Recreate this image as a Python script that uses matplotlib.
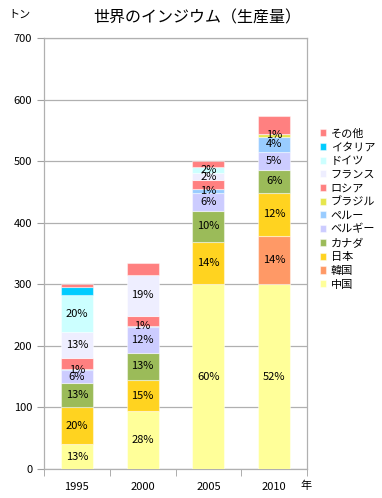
import matplotlib
matplotlib.use("Agg")
import matplotlib.pyplot as plt
import numpy as np

plt.rcParams["font.family"] = ["Noto Sans CJK JP", "DejaVu Sans"]

# ── data ─────────────────────────────────────────────────────────────────────
years = ["1995", "2000", "2005", "2010"]

# bottom → top stacking order
series = ["中国", "韓国", "日本", "カナダ", "ベルギー", "ペルー",
          "ブラジル", "ロシア", "フランス", "ドイツ", "イタリア", "その他"]

china   = [40, 94, 300, 300]
korea   = [0, 0, 0, 79]
japan   = [61, 50, 69, 70]
canada  = [39, 45, 50, 36]
belgium = [20, 42, 30, 30]
peru    = [2, 2, 6, 25]
brazil  = [0, 0, 0, 4]
russia  = [19, 16, 14, 0]
france  = [41, 66, 12, 0]
germany = [61, 0, 10, 0]
italy   = [12, 0, 0, 0]
other   = [5, 19, 9, 29]

labels_china   = ["13%", "28%", "60%", "52%"]
labels_korea   = [None, None, None, "14%"]
labels_japan   = ["20%", "15%", "14%", "12%"]
labels_canada  = ["13%", "13%", "10%", "6%"]
labels_belgium = ["6%", "12%", "6%", "5%"]
labels_peru    = ["1%", "1%", "1%", "4%"]
labels_brazil  = [None, None, None, "1%"]
labels_russia  = [None, None, None, None]
labels_france  = ["13%", "19%", "2%", None]
labels_germany = ["20%", None, "2%", None]
labels_italy   = [None, None, None, None]
labels_other   = [None, None, None, None]

values = [china, korea, japan, canada, belgium, peru,
          brazil, russia, france, germany, italy, other]
labels = [labels_china, labels_korea, labels_japan, labels_canada,
          labels_belgium, labels_peru, labels_brazil, labels_russia,
          labels_france, labels_germany, labels_italy, labels_other]
colors = ["#FFFF99", "#FF9966", "#FFD320", "#9BBB59", "#CCCCFF", "#99CCFF",
          "#E6E64C", "#FF8080", "#EEEEFF", "#CCFFFF", "#00CCFF", "#FF8080"]

# ── figure ───────────────────────────────────────────────────────────────────
fig = plt.figure(figsize=(3.82, 4.98), dpi=100)
ax = fig.add_axes([44 / 382, 29 / 498, 263 / 382, 431 / 498])

x = np.arange(len(years))
bottom = np.zeros(len(years))
handles = []
for name, vals, labs, col in zip(series, values, labels, colors):
    vals = np.array(vals, dtype=float)
    h = ax.bar(x, vals, width=0.49, bottom=bottom, color=col,
               edgecolor=(1, 1, 1, 0.45), linewidth=0.8, label=name, zorder=3)
    handles.append(h)
    for i, lab in enumerate(labs):
        if lab is not None and vals[i] > 0:
            ax.text(x[i], bottom[i] + vals[i] / 2, lab, ha="center", va="center",
                    fontsize=8, zorder=4)
    bottom += vals

ax.set_xlim(-0.5, len(years) - 0.5)
ax.set_ylim(0, 700)
ax.set_yticks(np.arange(0, 701, 100))
ax.set_xticks(x)
ax.set_xticklabels(years, fontsize=8)
ax.set_xticks(np.arange(-0.5, len(years), 1), minor=True)
ax.tick_params(axis="x", which="major", length=0, pad=9)
ax.tick_params(axis="x", which="minor", length=5, color="#A0A0A0")
ax.tick_params(axis="y", length=5, color="#A0A0A0", labelsize=8)
ax.grid(axis="y", color="#B0B0B0", linewidth=0.9, zorder=0)
for s in ax.spines.values():
    s.set_color("#B0B0B0")
    s.set_linewidth(0.9)

fig.text(197 / 382, 1 - 18 / 498, "世界のインジウム（生産量）", ha="center",
         va="center", fontsize=11.5)
fig.text(8 / 382, 1 - 15 / 498, "トン", ha="left", va="center", fontsize=8)
fig.text(300 / 382, 1 - 486 / 498, "年", ha="left", va="center", fontsize=8)

leg = fig.legend(handles[::-1], series[::-1], loc="upper left",
                 bbox_to_anchor=(314 / 382, 1 - 123 / 498), frameon=False,
                 fontsize=8, handlelength=0.6, handleheight=0.6,
                 handletextpad=0.4, labelspacing=0.33, borderpad=0)

fig.savefig("out.png", dpi=100)
